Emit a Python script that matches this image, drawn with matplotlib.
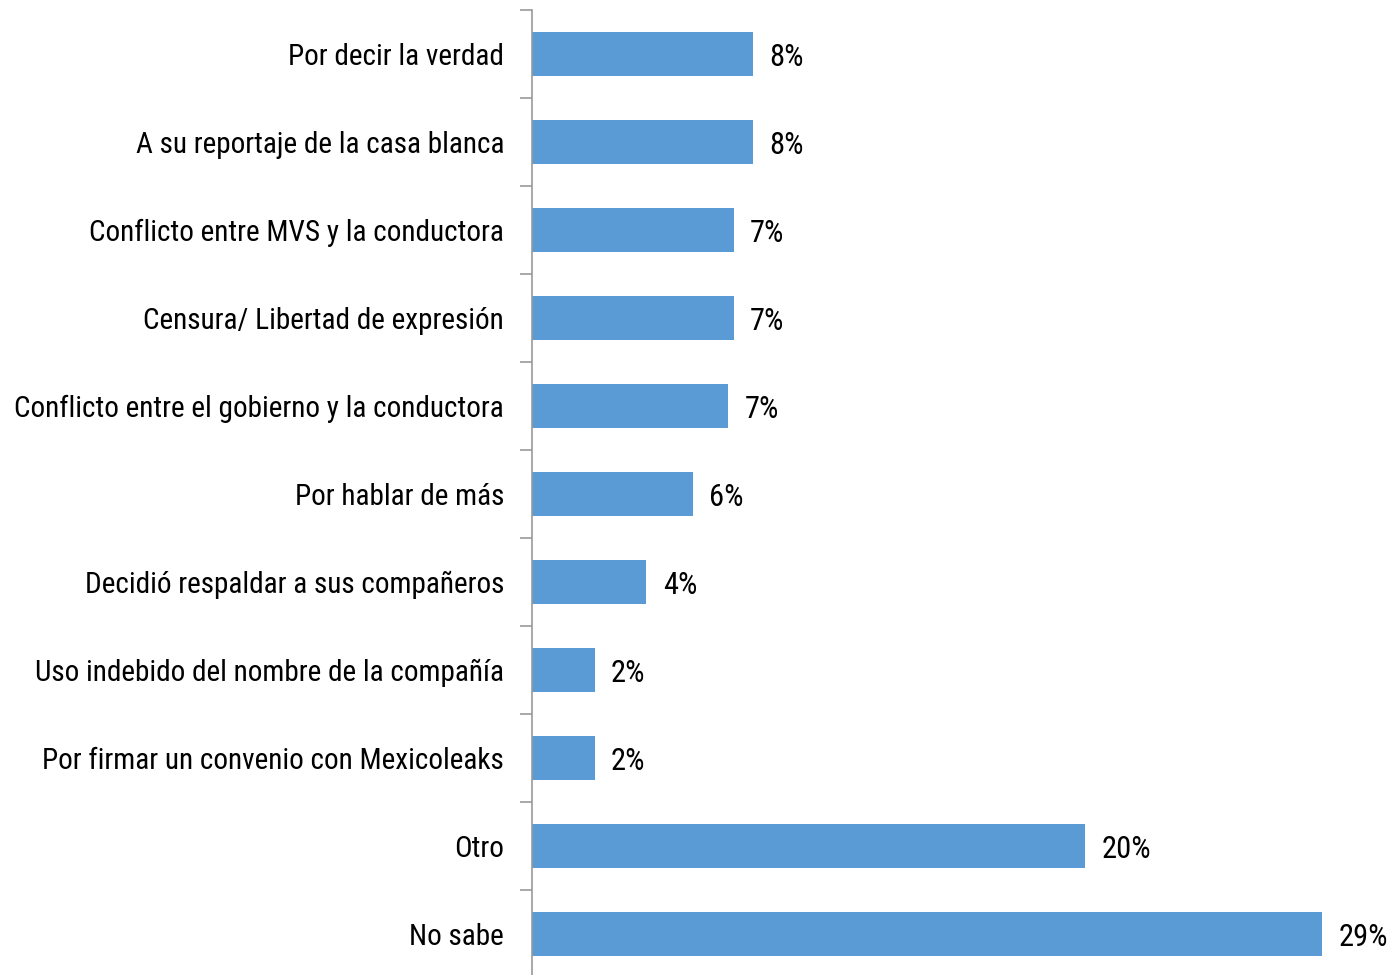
import matplotlib
matplotlib.use('Agg')
import matplotlib.pyplot as plt
from matplotlib import font_manager

# condensed face if the system has one, like the Arial Narrow of the original
narrow = None
for f in font_manager.fontManager.ttflist:
    low = f.fname.lower()
    if ('narrow' in low or 'condensed' in low) and 'bold' not in low and 'italic' not in low and 'oblique' not in low:
        narrow = f.fname
        if 'liberation' in low:
            break
if narrow:
    fp = font_manager.FontProperties(fname=narrow)
else:
    fp = font_manager.FontProperties(family='Liberation Sans')

categories = ['Por decir la verdad', 'A su reportaje de la casa blanca',
              'Conflicto entre MVS y la conductora', 'Censura/ Libertad de expresión',
              'Conflicto entre el gobierno y la conductora', 'Por hablar de más',
              'Decidió respaldar a sus compañeros', 'Uso indebido del nombre de la compañía',
              'Por firmar un convenio con Mexicoleaks', 'Otro', 'No sabe']
values = [8.1, 8.1, 7.4, 7.4, 7.2, 5.9, 4.2, 2.3, 2.3, 20.3, 29.0]
labels = ['8%', '8%', '7%', '7%', '7%', '6%', '4%', '2%', '2%', '20%', '29%']

fig = plt.figure(figsize=(13.95, 9.75), dpi=100)
ax = fig.add_axes([532 / 1395, -3 / 975, 1 - 532 / 1395, 968 / 975])

# fit the longest category name into the space left of the axis
size = 22
r = fig.canvas.get_renderer()
t = fig.text(0, 0, max(categories, key=len), fontproperties=fp, fontsize=size)
w = t.get_window_extent(r).width
t.remove()
if w > 490:
    size = size * 490 / w
fp.set_size(size)
fpv = fp.copy()
fpv.set_size(min(22, size * 1.15))

pos = list(range(len(categories)))
ax.barh(pos, values, height=0.51, color='#5B9BD5')
for p, v, lab in zip(pos, values, labels):
    ax.text(v + 0.6, p, lab, va='center_baseline', ha='left', fontproperties=fpv)

ax.set_ylim(len(categories) - 0.5, -0.5)
ax.set_xlim(0, 31.68)
ax.set_yticks(pos)
ax.set_yticklabels(categories)
for lab in ax.get_yticklabels():
    lab.set_fontproperties(fp)
    lab.set_verticalalignment('center_baseline')
ax.set_yticks([i - 0.5 for i in range(len(categories) + 1)], minor=True)
ax.tick_params(axis='y', which='major', length=0, pad=20)
ax.tick_params(axis='y', which='minor', length=9, width=1.2, color='#999999')
ax.set_xticks([])
for s in ['top', 'right', 'bottom']:
    ax.spines[s].set_visible(False)
ax.spines['left'].set_color('#999999')
ax.spines['left'].set_linewidth(1.2)

fig.savefig('out.png', dpi=100)
